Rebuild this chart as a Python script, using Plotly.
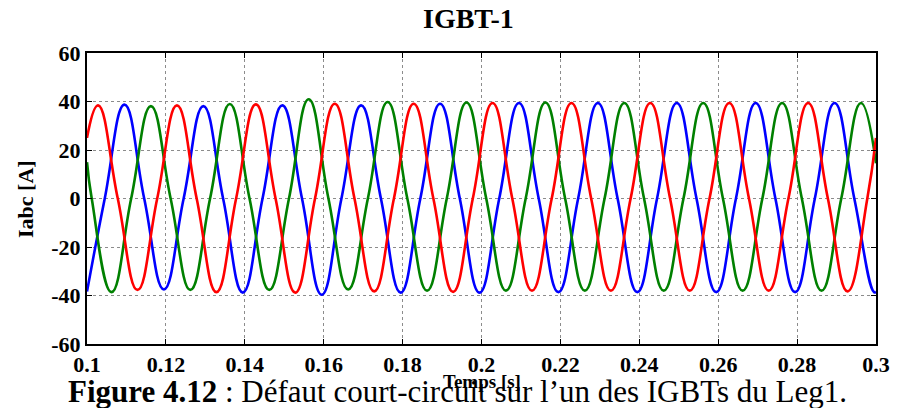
import plotly.graph_objects as go

# Time window [s] and axis ticks
t_start, t_end = 0.1, 0.3
x_ticks = [0.1, 0.12, 0.14, 0.16, 0.18, 0.2, 0.22, 0.24, 0.26, 0.28, 0.3]
x_tick_text = ["0.1", "0.12", "0.14", "0.16", "0.18", "0.2", "0.22", "0.24", "0.26", "0.28", "0.3"]
y_ticks = [-60, -40, -20, 0, 20, 40, 60]
y_tick_text = ["-60", "-40", "-20", "0", "20", "40", "60"]

# Phase a (red): peaks/troughs, zero crossings and values at the window edges
ext_t_a = [0.1028, 0.1128, 0.1228, 0.1328, 0.1428, 0.1528, 0.1628, 0.1728, 0.1828, 0.1928,
           0.2028, 0.2128, 0.2228, 0.2328, 0.2428, 0.2528, 0.2628, 0.2728, 0.2828, 0.2928]
ext_i_a = [38.4, -37.7, 38.4, -38.6, 38.8, -38.8, 39.1, -38.3, 39.1, -38.5,
           39.4, -38.0, 39.4, -38.0, 39.4, -38.0, 39.4, -38.0, 39.4, -38.3]
zero_t_a = [0.1078, 0.1178, 0.1278, 0.1378, 0.1478, 0.1578, 0.1678, 0.1778, 0.1878, 0.1978,
            0.2078, 0.2178, 0.2278, 0.2378, 0.2478, 0.2578, 0.2678, 0.2778, 0.2878, 0.2978]
edge_i_a = [25.0, 25.0]

# Phase b (blue)
ext_t_b = [0.1095, 0.1195, 0.1295, 0.1395, 0.1495, 0.1595, 0.1695, 0.1795, 0.1895, 0.1995,
           0.2095, 0.2195, 0.2295, 0.2395, 0.2495, 0.2595, 0.2695, 0.2795, 0.2895, 0.2995]
ext_i_b = [38.7, -37.5, 38.1, -38.8, 38.4, -39.7, 38.4, -38.8, 39.1, -38.8,
           39.4, -38.6, 39.4, -38.6, 39.4, -38.6, 39.4, -38.6, 39.4, -38.6]
zero_t_b = [0.1045, 0.1145, 0.1245, 0.1345, 0.1445, 0.1545, 0.1645, 0.1745, 0.1845, 0.1945,
            0.2045, 0.2145, 0.2245, 0.2345, 0.2445, 0.2545, 0.2645, 0.2745, 0.2845, 0.2945]
edge_i_b = [-38.4, -38.5]

# Phase c (green)
ext_t_c = [0.1062, 0.1162, 0.1262, 0.1362, 0.1462, 0.1562, 0.1662, 0.1762, 0.1862, 0.1962,
           0.2062, 0.2162, 0.2262, 0.2362, 0.2462, 0.2562, 0.2662, 0.2762, 0.2862, 0.2962]
ext_i_c = [-38.6, 38.1, -37.7, 39.0, -37.7, 40.9, -37.5, 39.8, -38.0, 39.6,
           -38.0, 39.6, -38.0, 39.4, -38.0, 39.4, -38.0, 39.4, -38.0, 39.4]
zero_t_c = [0.1012, 0.1112, 0.1212, 0.1312, 0.1412, 0.1512, 0.1612, 0.1712, 0.1812, 0.1912,
            0.2012, 0.2112, 0.2212, 0.2312, 0.2412, 0.2512, 0.2612, 0.2712, 0.2812, 0.2912]
edge_i_c = [15.0, 14.5]

SERIF = "Liberation Serif, Times New Roman, serif"


def key_points(ext_t, ext_i, zero_t, edge_i):
    pts = [(t_start, edge_i[0]), (t_end, edge_i[1])]
    pts += list(zip(ext_t, ext_i))
    pts += [(t, 0.0) for t in zero_t]
    pts.sort(key=lambda p: p[0])
    return [p[0] for p in pts], [p[1] for p in pts]


fig = go.Figure()
for name, color, data in [
    ("ib", "#0000ff", (ext_t_b, ext_i_b, zero_t_b, edge_i_b)),
    ("ic", "#008000", (ext_t_c, ext_i_c, zero_t_c, edge_i_c)),
    ("ia", "#ff0000", (ext_t_a, ext_i_a, zero_t_a, edge_i_a)),
]:
    xs, ys = key_points(*data)
    fig.add_trace(go.Scatter(
        x=xs, y=ys, mode="lines", name=name, showlegend=False,
        line=dict(color=color, width=2.6, shape="spline", smoothing=1.3),
    ))

axis_common = dict(
    showline=True, linecolor="black", linewidth=2, mirror="ticks",
    ticks="inside", ticklen=5, tickwidth=1, tickcolor="black",
    showgrid=True, gridcolor="#8c8c8c", griddash="dot", gridwidth=1,
    zeroline=False,
    tickfont=dict(family=SERIF, size=22, color="black", weight="bold"),
)

fig.update_xaxes(range=[t_start, t_end], tickmode="array",
                 tickvals=x_ticks, ticktext=x_tick_text, **axis_common)
fig.update_yaxes(range=[-60, 60], tickmode="array",
                 tickvals=y_ticks, ticktext=y_tick_text, **axis_common)

fig.update_layout(
    width=902, height=408,
    margin=dict(l=87, r=20, t=53, b=64),
    paper_bgcolor="white", plot_bgcolor="white",
    annotations=[
        dict(text="<b>IGBT-1</b>", xref="paper", yref="paper", x=0.483, y=1.117,
             xanchor="center", yanchor="middle", showarrow=False,
             font=dict(family=SERIF, size=28, color="black")),
        dict(text="<b>Iabc [A]</b>", xref="paper", yref="paper", x=-0.078, y=0.5,
             xanchor="center", yanchor="middle", textangle=-90, showarrow=False,
             font=dict(family=SERIF, size=22, color="black")),
        dict(text="<b>Temps [s]</b>", xref="paper", yref="paper", x=0.5, y=-0.128,
             xanchor="center", yanchor="middle", showarrow=False,
             font=dict(family=SERIF, size=19, color="black")),
        dict(text="<b>Figure 4.12</b> : Défaut court-circuit sur l’un des IGBTs du Leg1.",
             xref="paper", yref="paper", x=0.469, y=-0.163,
             xanchor="center", yanchor="middle", showarrow=False, borderpad=0,
             font=dict(family=SERIF, size=31, color="black")),
    ],
)

fig.write_html("out.html")
